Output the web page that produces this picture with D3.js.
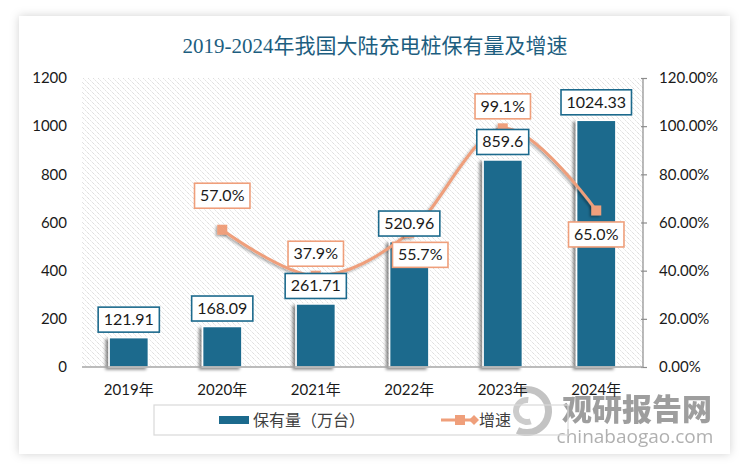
<!DOCTYPE html>
<html><head><meta charset="utf-8">
<script src="https://cdn.jsdelivr.net/npm/d3@7/dist/d3.min.js"></script>
<style>body{margin:0;background:#fff;}svg{display:block;}</style>
</head><body><svg id="c" width="750" height="471"></svg>
<script>
const years = ["2019年","2020年","2021年","2022年","2023年","2024年"];
const stock = [121.91,168.09,261.71,520.96,859.6,1024.33];
const stockLabels = ["121.91","168.09","261.71","520.96","859.6","1024.33"];
const growth = [null,57.0,37.9,55.7,99.1,65.0];
const growthLabels = [null,"57.0%","37.9%","55.7%","99.1%","65.0%"];
const leftTicks = [0,200,400,600,800,1000,1200];
const rightTicks = [0,20,40,60,80,100,120];
const title = "2019-2024年我国大陆充电桩保有量及增速";
const seriesNames = ["保有量（万台）","增速"];

// label placement for growth labels (dx, dy from point to box centre)
const growthPlace = [null,[0,-34],[0,-22],[11,22],[0,-22],[0,24]];

const svg = d3.select("#c");
const m = {l:82,r:643,t:78,b:367};
const barColor="#1c6a8d", lineColor="#ef9f7b";
const font="Lato, 'Noto Sans CJK SC', sans-serif";

const defs = svg.append("defs");
const cardF = defs.append("filter").attr("id","cardShadow").attr("x","-10%").attr("y","-10%").attr("width","120%").attr("height","120%");
cardF.append("feDropShadow").attr("dx",0).attr("dy",0).attr("stdDeviation",5).attr("flood-color","#000").attr("flood-opacity",0.18);
const barF = defs.append("filter").attr("id","barShadow").attr("x","-40%").attr("y","-10%").attr("width","180%").attr("height","130%");
barF.append("feDropShadow").attr("dx",-3).attr("dy",2).attr("stdDeviation",1.8).attr("flood-color","#000").attr("flood-opacity",0.45);
const ptF = defs.append("filter").attr("id","ptShadow").attr("x","-50%").attr("y","-50%").attr("width","200%").attr("height","200%");
ptF.append("feDropShadow").attr("dx",-1.5).attr("dy",1.5).attr("stdDeviation",1.2).attr("flood-color","#000").attr("flood-opacity",0.35);
const pat = defs.append("pattern").attr("id","hatch").attr("patternUnits","userSpaceOnUse").attr("width",5).attr("height",5);
pat.append("path").attr("d","M-1,-1 L6,6 M-1,4 L1,6 M4,-1 L6,1").attr("stroke","#cfcfcf").attr("stroke-width",0.9).attr("stroke-dasharray","1.2,0.8");

// card
svg.append("rect").attr("x",19).attr("y",16).attr("width",711).attr("height",438).attr("fill","#fff").attr("filter","url(#cardShadow)");

// title
svg.append("text").attr("x",375).attr("y",53).attr("text-anchor","middle")
  .attr("font-family","'Liberation Serif','Noto Sans CJK SC',serif").attr("font-size",21)
  .attr("fill","#1d5e80").text(title);

// scales
const x = d3.scaleBand().domain(years).range([m.l,m.r]).paddingInner(0.58).paddingOuter(0.29);
const yL = d3.scaleLinear().domain([0,1200]).range([m.b,m.t]);
const yR = d3.scaleLinear().domain([0,120]).range([m.b,m.t]);

// plot background hatch
svg.append("rect").attr("x",m.l).attr("y",m.t).attr("width",m.r-m.l).attr("height",m.b-m.t).attr("fill","url(#hatch)");

// watermark
const wm = svg.append("g").attr("opacity",0.85);
const arc = d3.arc();
wm.append("path").attr("transform","translate(527,411)")
  .attr("d",arc({innerRadius:18,outerRadius:25,startAngle:-0.3,endAngle:3.6})).attr("fill","#b9b9b9");
wm.append("path").attr("transform","translate(527,411)")
  .attr("d",arc({innerRadius:8,outerRadius:14,startAngle:2.8,endAngle:6.4})).attr("fill","#c4c4c4");
wm.append("text").attr("x",637).attr("y",420).attr("text-anchor","middle").attr("font-family","'Noto Sans CJK SC',sans-serif")
  .attr("font-weight",900).attr("font-size",30).attr("fill","#8e8e8e").text("观研报告网");
wm.append("text").attr("x",635).attr("y",443).attr("text-anchor","middle").attr("font-family","'Open Sans',sans-serif")
  .attr("font-size",19).attr("fill","#a3a3a3").text("chinabaogao.com");

// left axis
const gL = svg.append("g").attr("transform",`translate(${m.l},0)`)
  .call(d3.axisLeft(yL).tickValues(leftTicks).tickSize(0).tickPadding(15).tickFormat(d3.format("d")));
gL.select(".domain").remove();
gL.selectAll("text").attr("font-family",font).attr("font-size",15).attr("fill","#1a1a1a");

// right axis
const gR = svg.append("g").attr("transform",`translate(${m.r},0)`)
  .call(d3.axisRight(yR).tickValues(rightTicks).tickSize(4).tickPadding(12).tickFormat(d=>d3.format(".2f")(d)+"%"));
gR.select(".domain").attr("stroke","#8c8c8c").attr("stroke-width",1.2).attr("d",`M0,${m.t}V${m.b}`);
gR.selectAll(".tick line").attr("stroke","#8c8c8c").attr("stroke-width",1.2).attr("x1",-2);
gR.selectAll("text").attr("font-family",font).attr("font-size",15).attr("fill","#1a1a1a");

// bars
svg.append("g").selectAll("rect").data(stock).join("rect")
  .attr("x",(d,i)=>x(years[i])).attr("width",x.bandwidth())
  .attr("y",d=>yL(d)).attr("height",d=>yL(0)-yL(d))
  .attr("fill",barColor).attr("stroke","#fff").attr("stroke-width",1.5).attr("filter","url(#barShadow)");

// baseline
svg.append("line").attr("x1",m.l).attr("x2",m.r).attr("y1",m.b).attr("y2",m.b).attr("stroke","#a6a6a6").attr("stroke-width",1.5);

// x labels
svg.append("g").selectAll("text").data(years).join("text")
  .attr("x",d=>x(d)+x.bandwidth()/2).attr("y",395).attr("text-anchor","middle")
  .attr("font-family",font).attr("font-size",15).attr("fill","#1a1a1a").text(d=>d);

// line
const pts = growth.map((g,i)=>g==null?null:[x(years[i])+x.bandwidth()/2, yR(g)]).filter(p=>p);
svg.append("path").attr("d",d3.line().curve(d3.curveCatmullRom.alpha(0))(pts))
  .attr("fill","none").attr("stroke",lineColor).attr("stroke-width",3).attr("filter","url(#ptShadow)");
svg.append("g").selectAll("rect").data(pts).join("rect")
  .attr("x",d=>d[0]-5).attr("y",d=>d[1]-5).attr("width",10).attr("height",10)
  .attr("fill",lineColor).attr("filter","url(#ptShadow)");

// label boxes
function labelBox(g, cx, cy, txt, color){
  const t = g.append("text").attr("x",cx).attr("y",cy+5.5).attr("text-anchor","middle")
    .attr("font-family",font).attr("font-size",16).attr("fill","#1a1a1a").text(txt);
  const w = t.node().getComputedTextLength()+11;
  g.insert("rect","text").attr("x",cx-w/2).attr("y",cy-12.5).attr("width",w).attr("height",25)
    .attr("fill","#fff").attr("stroke",color).attr("stroke-width",1.6);
}
stock.forEach((d,i)=>{
  const g = svg.append("g");
  labelBox(g, x(years[i])+x.bandwidth()/2, yL(d)-18, stockLabels[i], barColor);
});
growth.forEach((d,i)=>{
  if(d==null) return;
  const g = svg.append("g");
  labelBox(g, x(years[i])+x.bandwidth()/2+growthPlace[i][0], yR(d)+growthPlace[i][1], growthLabels[i], lineColor);
});

// legend
const lg = svg.append("g");
lg.append("rect").attr("x",154).attr("y",405).attr("width",414).attr("height",30).attr("fill","none").attr("stroke","#d9d9d9").attr("stroke-width",1.2);
lg.append("rect").attr("x",219).attr("y",416).attr("width",30).attr("height",8).attr("fill",barColor);
lg.append("text").attr("x",253).attr("y",426).attr("font-family",font).attr("font-size",16).attr("fill","#404040").text(seriesNames[0]);
lg.append("line").attr("x1",441).attr("x2",474).attr("y1",420).attr("y2",420).attr("stroke",lineColor).attr("stroke-width",3);
lg.append("rect").attr("x",455).attr("y",415).attr("width",10).attr("height",10).attr("fill",lineColor);
lg.append("path").attr("d","M469,420 L474,415 L479,420 L474,425Z").attr("fill",lineColor);
lg.append("text").attr("x",479).attr("y",426).attr("font-family",font).attr("font-size",16).attr("fill","#404040").text(seriesNames[1]);
</script></body></html>
